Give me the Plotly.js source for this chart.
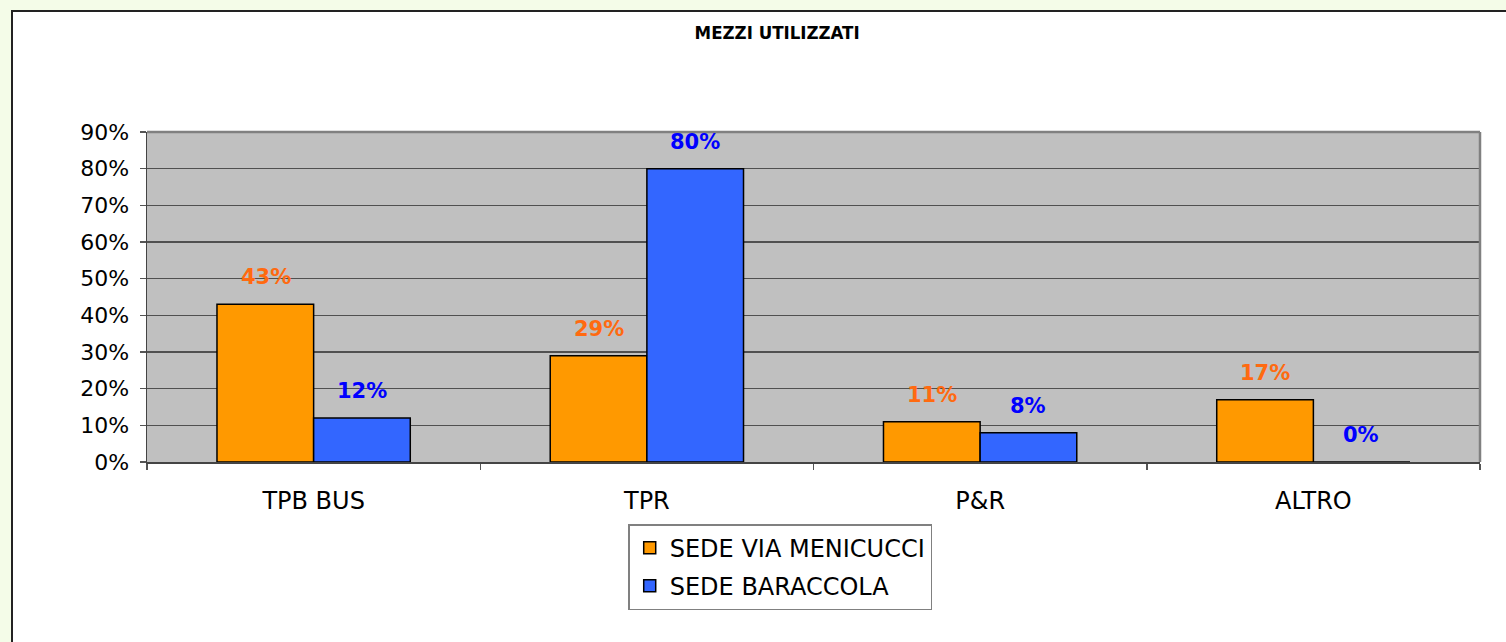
<!DOCTYPE html>
<html>
<head>
<meta charset="utf-8">
<script src="https://cdn.plot.ly/plotly-3.0.1.min.js"></script>
<style>
html, body { margin:0; padding:0; width:1506px; height:642px; overflow:hidden; background:#F4FCE8; }
#frame { position:absolute; left:11px; top:10px; width:1520px; height:660px; background:#FFFFFF; border-left:2px solid #222; border-top:2px solid #222; }
#chart { position:absolute; left:0; top:0; width:1506px; height:642px; }
</style>
</head>
<body>
<div id="frame"></div>
<div id="chart"></div>
<script>
const categories = ["TPB BUS", "TPR", "P&R", "ALTRO"];
const seriesNames = ["SEDE VIA MENICUCCI", "SEDE BARACCOLA"];
const menicucci = [43, 29, 11, 17];
const baraccola = [12, 80, 8, 0];
const yTickVals = [0, 10, 20, 30, 40, 50, 60, 70, 80, 90];

const FONT = "DejaVu Sans, Arial, sans-serif";
const barColors = ["#FF9900", "#3366FF"];
const labelColors = ["#FF6A10", "#0000FF"];
const allSeries = [menicucci, baraccola];

const traces = allSeries.map((vals, i) => ({
  type: "bar",
  name: seriesNames[i],
  x: categories,
  y: vals,
  legendgroup: "g" + i,
  marker: { color: barColors[i], line: { color: "#000000", width: 1.5 } },
  hoverinfo: "x+y"
}));

const annotations = [];
allSeries.forEach((vals, i) => {
  vals.forEach((v, j) => {
    annotations.push({
      x: categories[j], y: v, xref: "x", yref: "y",
      text: v + "%", showarrow: false,
      xshift: i === 0 ? -48 : 48, yshift: 27,
      yanchor: "middle", xanchor: "center",
      font: { family: FONT, size: 21, color: labelColors[i], weight: "bold" }
    });
  });
});

const layout = {
  width: 1506, height: 642,
  margin: { l: 147, r: 26, t: 132, b: 180, pad: 0 },
  paper_bgcolor: "rgba(0,0,0,0)",
  plot_bgcolor: "#C0C0C0",
  font: { family: FONT, size: 20, color: "#000000" },
  title: {
    text: "<b>MEZZI UTILIZZATI</b>",
    font: { family: "DejaVu Sans Condensed, DejaVu Sans, sans-serif", size: 18.5, color: "#000000" },
    x: 0.516, xanchor: "center", xref: "container",
    y: 0.95, yanchor: "middle", yref: "container"
  },
  barmode: "group",
  bargap: 0.42,
  bargroupgap: 0,
  showlegend: true,
  legend: {
    x: 0.361, y: -0.188, xanchor: "left", yanchor: "top",
    xref: "paper", yref: "paper",
    bgcolor: "#FFFFFF", bordercolor: "#808080", borderwidth: 1.5,
    font: { family: FONT, size: 24, color: "#000000" },
    traceorder: "grouped", tracegroupgap: 4
  },
  xaxis: {
    type: "category",
    showgrid: false,
    ticks: "outside", tickson: "boundaries", ticklen: 6, tickcolor: "#555555", tickwidth: 1.5,
    showline: true, linecolor: "#444444", linewidth: 1.5,
    tickfont: { family: FONT, size: 24, color: "#000000" },
    ticklabelstandoff: 17,
    zeroline: false, fixedrange: true
  },
  yaxis: {
    range: [0, 90],
    tickvals: yTickVals,
    ticktext: yTickVals.map(v => v + "%"),
    showgrid: true, gridcolor: "#505050", gridwidth: 1.5,
    ticks: "outside", ticklen: 6, tickcolor: "#555555", tickwidth: 1.5,
    showline: true, linecolor: "#444444", linewidth: 1.5,
    tickfont: { family: FONT, size: 22, color: "#000000" },
    ticklabelstandoff: 6,
    zeroline: false, fixedrange: true
  },
  shapes: [
    { type: "line", xref: "paper", yref: "paper", x0: 0, x1: 1, y0: 1, y1: 1, line: { color: "#808080", width: 2.5 } },
    { type: "line", xref: "paper", yref: "paper", x0: 1, x1: 1, y0: 0, y1: 1, line: { color: "#808080", width: 2.5 } }
  ],
  annotations: annotations
};

Plotly.newPlot("chart", traces, layout, { displayModeBar: false, staticPlot: true });
</script>
</body>
</html>
